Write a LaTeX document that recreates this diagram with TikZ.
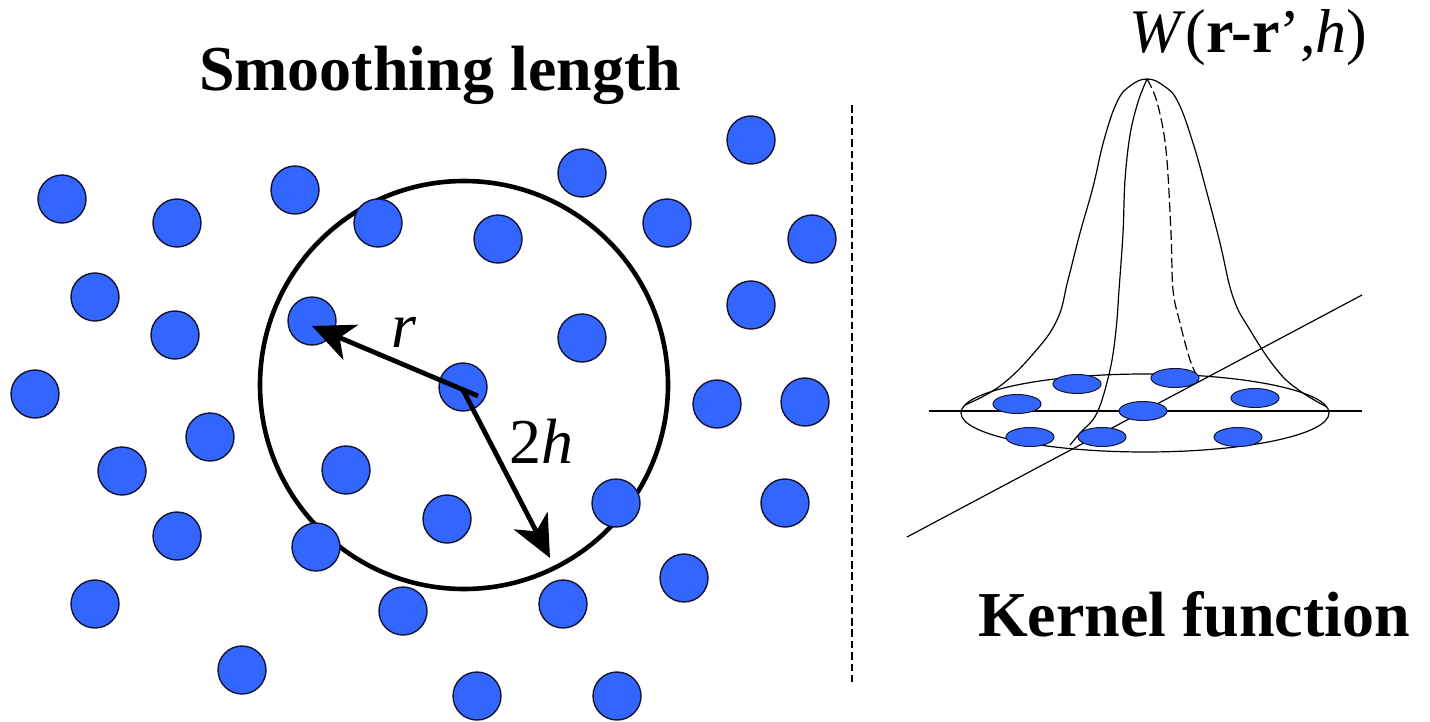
\documentclass[tikz,border=0pt]{standalone}
\usepackage{fontspec}
\setmainfont{LiberationSerif}[Extension=.ttf,UprightFont=*-Regular,BoldFont=*-Bold,ItalicFont=*-Italic,BoldItalicFont=*-BoldItalic]
\usetikzlibrary{arrows.meta}
\definecolor{dotblue}{RGB}{51,102,255}
\definecolor{dotline}{RGB}{20,20,50}
\begin{document}
\begin{tikzpicture}[x=0.5pt,y=-0.5pt,
  dot/.style={circle,draw=dotline,line width=0.7pt,fill=dotblue,minimum size=24pt,inner sep=0pt},
  flat/.style={draw=dotline,line width=0.5pt,fill=dotblue},
  thin line/.style={line width=0.6pt,black},
  radius arrow/.style={line width=2.4pt,-{Stealth[length=21pt,width=19pt,inset=6pt]}},
  bigfont/.style={font=\fontsize{32}{38}\selectfont}]
\useasboundingbox (0,0) rectangle (1430,722);
\fill[white] (0,0) rectangle (1430,722);

% titles
\node[font=\bfseries\fontsize{32}{38}\selectfont,anchor=base,inner sep=0pt] (t1) at (440,91) {Smoothing length};
\node[font=\bfseries\fontsize{32}{38}\selectfont,anchor=base,inner sep=0pt] (t2) at (1194,636) {Kernel function};
\node[font=\fontsize{31}{36}\selectfont,anchor=base west,inner sep=0pt] (wt) at (1129,53) {\textit{W}(\textbf{r-r}’,\textit{h})};

% separator
\coordinate (s1) at (852,105);
\coordinate (s2) at (852,682);
\draw[line width=1pt,dash pattern=on 3.8pt off 1.9pt] (s1) -- (s2);

% smoothing circle
\draw[line width=2.3pt] (464,385) circle[radius=102pt];

% particles
\foreach \n/\x/\y in {
 1/62/199, 2/177/223, 3/295/190, 4/378/223, 5/498/239, 6/582/173, 7/667/223,
 8/751/140, 9/812/239, 10/95/297, 11/175/335, 12/312/321, 13/582/338, 14/751/305,
 15/35/394, 16/463/387, 17/717/404, 18/805/402, 19/210/437, 20/122/471, 21/346/470,
 22/616/503, 23/785/503, 24/177/536, 25/316/547, 26/447/519, 27/684/578, 28/95/604,
 29/403/611, 30/563/604, 31/242/670, 32/477/696, 33/617/696}
 \node[dot] (d\n) at (\x,\y) {};

% radius arrows
\coordinate (c0) at (478,396);
\coordinate (c1) at (463,390);
\coordinate (rt) at (312,326);
\coordinate (ht) at (550,558);
\draw[radius arrow] (c0) -- (rt);
\draw[radius arrow] (c1) -- (ht);
\node[font=\itshape\fontsize{32}{38}\selectfont,anchor=base,inner sep=0pt] (lr) at (404,347) {r};
\node[bigfont,anchor=base,inner sep=0pt] (lh) at (541,463) {2\textit{h}};

% kernel function
\coordinate (ax1) at (929,411);
\coordinate (ax2) at (1362,411);
\coordinate (dg1) at (907,537);
\coordinate (dg2) at (1362,295);
\draw[thin line] (ax1) -- (ax2);
\draw[thin line] (dg1) -- (dg2);
\draw[thin line] (1145,413) ellipse[x radius=92pt,y radius=19.5pt];
\draw[thin line] plot[smooth,tension=0.7] coordinates {
 (965,405) (1000,386) (1033,354) (1057,320) (1068,280) (1080,233) (1093,187) (1104,140)
 (1117,102) (1130,86) (1147,79) (1164,86) (1178,102) (1193,143) (1207,193) (1220,243)
 (1233,297) (1250,330) (1277,370) (1300,391) (1327,407)};
\draw[thin line] plot[smooth,tension=0.6] coordinates {
 (1147,79) (1138,102) (1130,135) (1125,180) (1123,233) (1119,290) (1116,330) (1110,370)
 (1097,413) (1080,433) (1070,445)};
\draw[thin line,dash pattern=on 5pt off 2pt] plot[smooth,tension=0.6] coordinates {
 (1147,79) (1157,102) (1166,150) (1171,233) (1173,290) (1180,323) (1190,360) (1198,378)};

\foreach \n/\x/\y in {1/1077/384, 2/1175/378, 3/1017/404, 4/1255/398, 5/1143/411,
 6/1030/437, 7/1102/437, 8/1238/437}
 \path[flat] (\x,\y) ellipse[x radius=12pt,y radius=4.75pt];
\end{tikzpicture}
\end{document}
